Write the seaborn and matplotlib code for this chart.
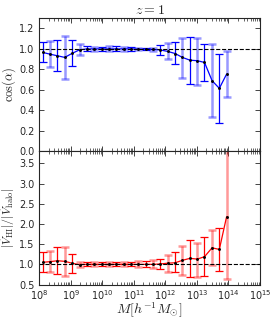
"""Alignment of HI and halo velocities vs halo mass at z = 1."""

import matplotlib
matplotlib.use("Agg")
import matplotlib.pyplot as plt
import numpy as np
import pandas as pd
import seaborn as sns

sns.set_style("ticks")
plt.rcParams["font.family"] = ["DejaVu Sans"]
plt.rcParams["mathtext.fontset"] = "cm"

# log10 of halo mass at bin centres [h^-1 Msun]
log_mass = [8.11, 8.34, 8.58, 8.81, 9.04, 9.28, 9.51, 9.74, 9.98, 10.21,
            10.44, 10.68, 10.91, 11.14, 11.38, 11.61, 11.84, 12.08, 12.31,
            12.54, 12.78, 13.01, 13.24, 13.48, 13.71, 13.94]

# cos(alpha): median and error range
cos_mid = [0.966, 0.949, 0.933, 0.917, 0.956, 0.991, 1.0, 1.0, 1.0, 1.0,
           1.0, 1.0, 1.0, 0.998, 0.997, 0.995, 0.99, 0.975, 0.955,
           0.917, 0.89, 0.885, 0.868, 0.69, 0.615, 0.754]
cos_lo = [0.868, 0.826, 0.787, 0.705, 0.829, 0.94, 0.975, 0.98, 0.98, 0.975,
          0.975, 0.98, 0.98, 0.985, 0.985, 0.98, 0.94, 0.90, 0.85,
          0.72, 0.66, 0.65, 0.69, 0.34, 0.276, 0.53]
cos_hi = [1.069, 1.079, 1.089, 1.128, 1.089, 1.047, 1.025, 1.02, 1.02, 1.025,
          1.025, 1.02, 1.02, 1.012, 1.01, 1.01, 1.04, 1.057, 1.07,
          1.11, 1.12, 1.11, 1.05, 1.045, 0.955, 0.975]

# |V_HI| / |V_halo|: median and error range
ratio_mid = [1.05, 1.067, 1.09, 1.075, 1.03, 0.99, 1.0, 1.0, 1.0, 1.0,
             1.0, 1.0, 1.0, 1.0, 1.0, 1.0, 1.01, 1.03, 1.04,
             1.10, 1.15, 1.13, 1.19, 1.41, 1.37, 2.18]
ratio_lo = [0.82, 0.82, 0.76, 0.72, 0.79, 0.94, 0.95, 0.95, 0.95, 0.95,
            0.95, 0.95, 0.95, 0.94, 0.93, 0.91, 0.89, 0.80, 0.80,
            0.74, 0.68, 0.68, 0.72, 0.98, 0.84, 0.64]
ratio_hi = [1.30, 1.34, 1.44, 1.44, 1.26, 1.07, 1.06, 1.06, 1.06, 1.07,
            1.07, 1.06, 1.07, 1.08, 1.09, 1.10, 1.13, 1.23, 1.30,
            1.45, 1.61, 1.54, 1.67, 1.85, 1.89, 4.0]

df = pd.DataFrame({
    "mass": 10 ** np.array(log_mass),
    "cos_mid": cos_mid, "cos_lo": cos_lo, "cos_hi": cos_hi,
    "ratio_mid": ratio_mid, "ratio_lo": ratio_lo, "ratio_hi": ratio_hi,
})
odd = np.arange(len(df)) % 2 == 1

fig, (ax1, ax2) = plt.subplots(2, 1, figsize=(2.74, 3.19), dpi=100, sharex=True)
fig.subplots_adjust(left=0.143, right=0.949, top=0.943, bottom=0.108, hspace=0)


def draw(ax, key, color):
    mid = df[f"{key}_mid"]
    err = np.vstack([mid - df[f"{key}_lo"], df[f"{key}_hi"] - mid])
    for sel, kw in [(odd, dict(alpha=0.4, elinewidth=1.8, capthick=1.8)),
                    (~odd, dict(alpha=1.0, elinewidth=0.9, capthick=0.9))]:
        ax.errorbar(df["mass"][sel], mid[sel], yerr=err[:, sel], fmt="none",
                    ecolor=color, capsize=3, **kw)
    sns.lineplot(x=df["mass"], y=mid, ax=ax, color=color, lw=0.9)
    ax.plot(df["mass"], mid, "k.", ms=2.2)
    ax.axhline(1.0, color="k", ls="--", lw=0.8)


draw(ax1, "cos", "blue")
draw(ax2, "ratio", "red")

ax1.set_ylim(0, 1.3)
ax1.set_yticks(np.arange(0, 1.21, 0.2))
ax1.set_ylabel(r"$\cos(\alpha)$", fontsize=9)
ax1.set_title(r"$z = 1$", fontsize=10, pad=3)

ax2.set_ylim(0.5, 3.8)
ax2.set_yticks(np.arange(0.5, 3.51, 0.5))
ax2.set_ylabel(r"$|\vec{V}_{\rm HI}|/|\vec{V}_{\rm halo}|$", fontsize=8.5)
ax2.set_xscale("log")
ax2.set_xlim(1e8, 1e15)
ax2.set_xlabel(r"$M[h^{-1}M_{\odot}]$", fontsize=10, labelpad=-1)

for ax in (ax1, ax2):
    ax.tick_params(which="both", direction="in", top=True, right=True,
                   labelsize=7, pad=2)
    ax.tick_params(which="major", length=3.5, width=0.6)
    ax.tick_params(which="minor", length=2, width=0.5)
    ax.tick_params(axis="y", pad=3.5)
    for s in ax.spines.values():
        s.set_linewidth(0.8)
ax2.tick_params(axis="x", pad=2.5)
ax1.set_xlabel("")
ax1.yaxis.set_label_coords(-0.095, 0.5)
ax2.yaxis.set_label_coords(-0.1, 0.5)

fig.savefig("out.png", dpi=100)
